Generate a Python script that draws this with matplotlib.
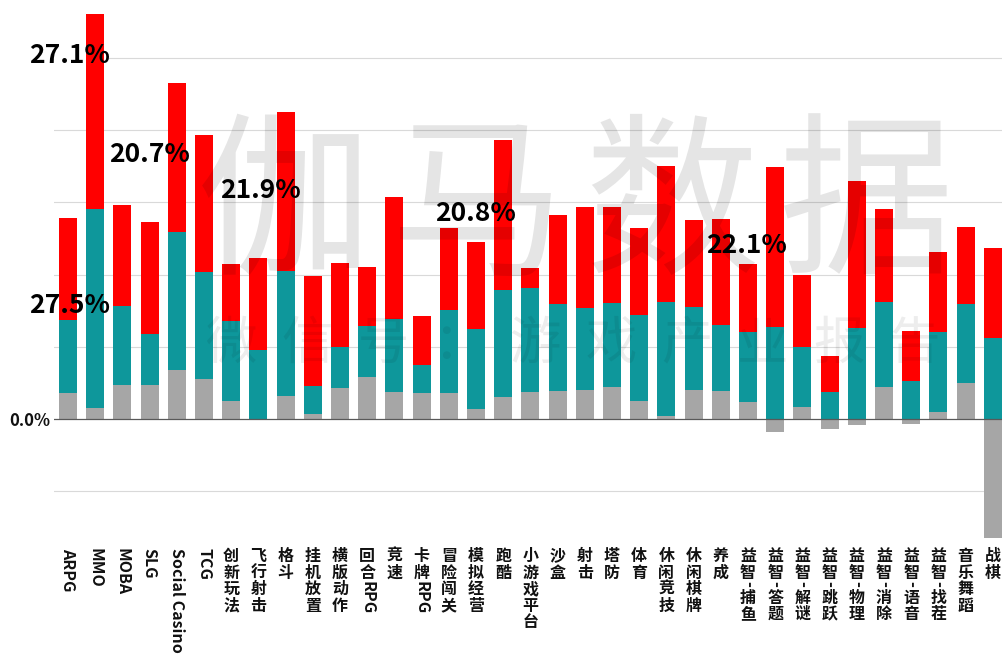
"""
Stacked bars per game genre (gray / teal / red), with vertical category labels
and the light watermark across the plot.
"""

import re

import matplotlib
matplotlib.use("Agg")
import matplotlib.pyplot as plt
from matplotlib.font_manager import FontProperties
from matplotlib.textpath import TextPath


# ── Data (one gridline = 10 units) ───────────────────────────────────────────
CATEGORIES = [
    "ARPG", "MMO", "MOBA", "SLG", "Social Casino", "TCG", "创新玩法", "飞行射击",
    "格斗", "挂机放置", "横版动作", "回合RPG", "竞速", "卡牌RPG", "冒险闯关",
    "模拟经营", "跑酷", "小游戏平台", "沙盒", "射击", "塔防", "体育", "休闲竞技",
    "休闲棋牌", "养成", "益智-捕鱼", "益智-答题", "益智-解谜", "益智-跳跃",
    "益智-物理", "益智-消除", "益智-语音", "益智-找茬", "音乐舞蹈", "战棋",
]
GRAY_VALS = [
    3.6, 1.5, 4.7, 4.7, 6.8, 5.5, 2.5, 0.0, 3.2, 0.7, 4.3, 5.8, 3.7, 3.6, 3.6,
    1.4, 3.0, 3.7, 3.9, 4.0, 4.4, 2.5, 0.4, 4.0, 3.9, 2.4, -1.8, 1.7, -1.4,
    -0.8, 4.4, -0.7, 1.0, 5.0, -16.5,
]
TEAL_VALS = [
    10.1, 27.6, 10.9, 7.1, 19.1, 14.8, 11.1, 9.6, 17.3, 3.9, 5.7, 7.1, 10.2,
    3.9, 11.5, 11.1, 14.8, 14.4, 12.0, 11.4, 11.6, 11.9, 15.8, 11.5, 9.1, 9.7,
    12.7, 8.3, 3.7, 12.6, 11.8, 5.3, 11.1, 10.9, 11.2,
]
RED_VALS = [
    14.1, 27.0, 14.1, 15.5, 20.6, 19.0, 7.9, 12.7, 22.0, 15.2, 11.6, 8.2, 16.9,
    6.8, 11.4, 12.0, 20.8, 2.8, 12.3, 14.0, 13.4, 12.0, 18.8, 12.0, 14.7, 9.4,
    22.2, 10.0, 5.0, 20.4, 12.9, 6.9, 11.1, 10.7, 12.5,
]

NOTE_TEXTS = ["27.1%", "27.5%", "20.7%", "21.9%", "20.8%", "22.1%"]
NOTE_X = [0.04, 0.04, 2.98, 7.06, 15.0, 24.96]
NOTE_Y = [50.3, 15.7, 36.6, 31.7, 28.5, 24.1]

GRID_LEVELS = [-10, 10, 20, 30, 40, 50]

GRAY = "#A6A6A6"
TEAL = "#0E979B"
RED = "#FF0000"
GRID = "#D9D9D9"

plt.rcParams["font.family"] = ["Noto Sans CJK SC", "DejaVu Sans"]


def vertical_label(ax, xpos, label, size=11.5):
    """Excel-style stacked label: CJK glyphs upright, ASCII runs turned 90°."""
    fp = FontProperties(family="Noto Sans CJK SC", weight="bold", size=size)
    offset = 4.5
    for run in re.findall(r"[\x00-\x7f]+|[^\x00-\x7f]", label):
        ascii_run = run.isascii()
        ax.annotate(run, xy=(xpos, 0), xycoords=ax.get_xaxis_transform(),
                    xytext=(0, -offset), textcoords="offset points",
                    rotation=-90 if ascii_run else 0,
                    ha="center", va="top", fontproperties=fp,
                    color="#111111", annotation_clip=False)
        if ascii_run:
            offset += TextPath((0, 0), run, prop=fp).get_extents().width + 0.25 * size
        else:
            offset += size * 1.04


fig = plt.figure(figsize=(10.02, 6.56), dpi=100)
ax = fig.add_axes([0.0543, 0.1742, 0.9501, 0.8254])

x = list(range(len(CATEGORIES)))
teal_bottom = [max(g, 0) for g in GRAY_VALS]
red_bottom = [b + t for b, t in zip(teal_bottom, TEAL_VALS)]

ax.bar(x, GRAY_VALS, width=0.66, color=GRAY, zorder=2)
ax.bar(x, TEAL_VALS, width=0.66, bottom=teal_bottom, color=TEAL, zorder=2)
ax.bar(x, RED_VALS, width=0.66, bottom=red_bottom, color=RED, zorder=2)

ax.set_xlim(-0.5, len(CATEGORIES) - 0.5)
ax.set_ylim(-17, 58)

# gridlines (the top one is hidden behind the first note box)
for level in GRID_LEVELS:
    xmin = 0.055 if level == GRID_LEVELS[-1] else 0
    ax.axhline(level, xmin=xmin, color=GRID, lw=0.8, zorder=0)
ax.axhline(0, color="#595959", lw=0.9, zorder=3)

ax.set_xticks([])
ax.set_yticks([0])
ax.set_yticklabels(["0.0%"], fontsize=12, fontweight="bold", color="#111111")
ax.tick_params(axis="y", length=0, pad=3)
for sp in ax.spines.values():
    sp.set_visible(False)

for i, cat in enumerate(CATEGORIES):
    vertical_label(ax, i, cat)

for txt, nx, ny in zip(NOTE_TEXTS, NOTE_X, NOTE_Y):
    ax.text(nx, ny, txt, ha="center", va="center", fontsize=19,
            fontweight="bold", color="black", zorder=5)

# ── Watermark ────────────────────────────────────────────────────────────────
for k, ch in enumerate("伽马数据"):
    fig.text((284 + 194 * k) / 1002, 1 - 211 / 656, ch, ha="center", va="center",
             fontsize=126, color="black", alpha=0.10, zorder=10)
for k, ch in enumerate("微信号：游戏产业报告"):
    fig.text((231 + 76 * k) / 1002, 1 - 344 / 656, ch, ha="center", va="center",
             fontsize=37, color="black", alpha=0.07, zorder=10)

fig.savefig("out.png", dpi=100, facecolor="white")
